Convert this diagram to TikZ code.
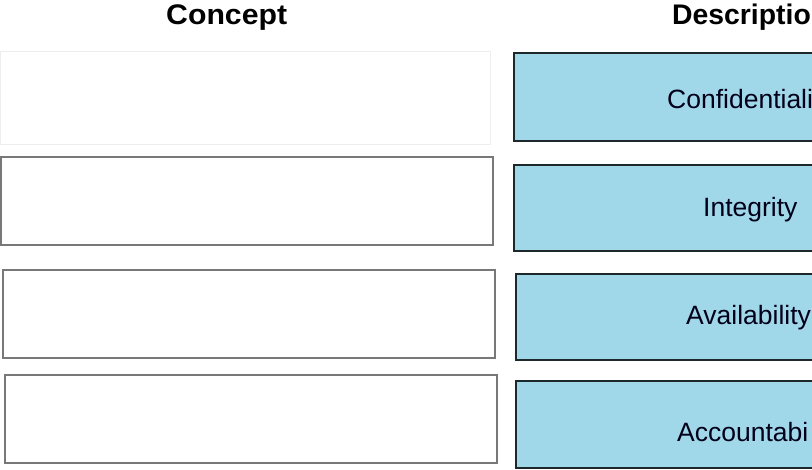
\documentclass[tikz,border=0pt]{standalone}
\usepackage{fontspec}
\setmainfont{Liberation Sans}
\definecolor{cellblue}{RGB}{160,216,234}
\definecolor{celledge}{RGB}{28,40,42}
\definecolor{slotedge}{RGB}{120,120,120}
\definecolor{faintedge}{RGB}{238,238,238}
\tikzset{
  slot/.style={draw=slotedge, line width=1.2pt, fill=white},
  faintslot/.style={draw=faintedge, line width=1pt, fill=white},
  cell/.style={draw=celledge, line width=2pt, fill=cellblue},
  head/.style={font=\fontsize{27}{31}\selectfont\bfseries, anchor=base west, inner sep=0pt, text=black},
  lbl/.style={font=\fontsize{26.5}{30}\selectfont, anchor=base west, inner sep=0pt, text=black!90!blue},
}
\begin{document}
\begin{tikzpicture}[x=1pt,y=-1pt]
\useasboundingbox (0,0) rectangle (812,470);
\clip (0,0) rectangle (812,470);
\fill[white] (0,0) rectangle (812,470);
% headers
\node[head] (hconcept) at (166,25) {\scalebox{1.12}[1.05]{Concept}};
\node[head] (hdesc) at (672,25) {\scalebox{1.05}[1.05]{Descriptio}};
% left slots
\draw[faintslot] (0,52) rectangle (490,145);
\draw[slot] (1,157) rectangle (493,245);
\draw[slot] (3,270) rectangle (495,358);
\draw[slot] (5,375) rectangle (497,463);
\path (0,52) rectangle (490,145) node[midway] (s1) {};
\path (1,157) rectangle (493,245) node[midway] (s2) {};
\path (3,270) rectangle (495,358) node[midway] (s3) {};
\path (5,375) rectangle (497,463) node[midway] (s4) {};
% right cells
\draw[cell] (514,53) rectangle (830,141);
\draw[cell] (514,165) rectangle (830,251);
\draw[cell] (516,274) rectangle (830,360);
\draw[cell] (516,381) rectangle (830,468);
% labels
\node[lbl] (c1) at (667,109) {Confidentiali};
\node[lbl] (c2) at (703,217) {Integrity};
\node[lbl] (c3) at (686,325) {Availability};
\node[lbl] (c4) at (677,442) {Accountabi};
\end{tikzpicture}
\end{document}
